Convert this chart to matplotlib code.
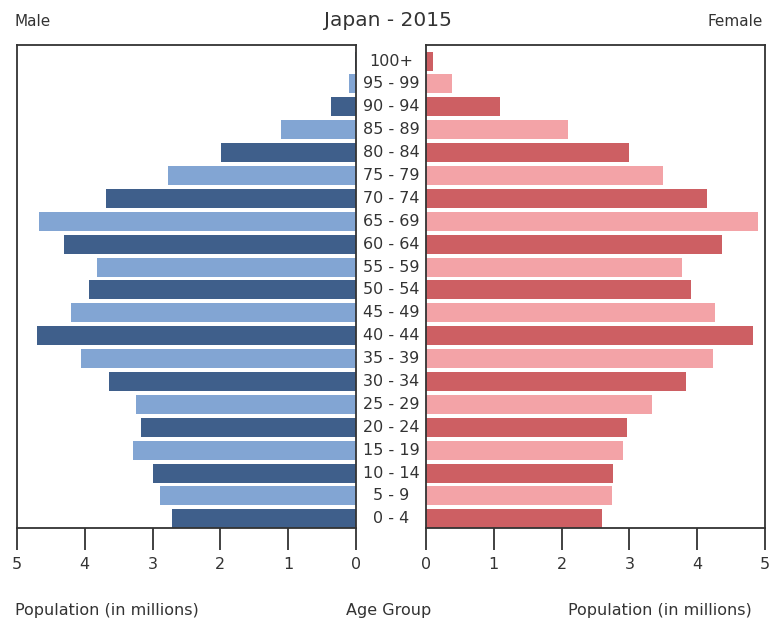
import matplotlib
matplotlib.use("Agg")
import matplotlib.pyplot as plt
import numpy as np

age_groups = ["0 - 4", "5 - 9", "10 - 14", "15 - 19", "20 - 24", "25 - 29", "30 - 34",
              "35 - 39", "40 - 44", "45 - 49", "50 - 54", "55 - 59", "60 - 64", "65 - 69",
              "70 - 74", "75 - 79", "80 - 84", "85 - 89", "90 - 94", "95 - 99", "100+"]
male = [2.72, 2.89, 3.00, 3.29, 3.17, 3.24, 3.65, 4.05, 4.70, 4.20, 3.94, 3.82, 4.31, 4.68,
        3.69, 2.78, 1.99, 1.10, 0.37, 0.10, 0.02]
female = [2.59, 2.75, 2.76, 2.90, 2.97, 3.33, 3.83, 4.24, 4.83, 4.26, 3.91, 3.78, 4.36, 4.90,
          4.15, 3.50, 3.00, 2.10, 1.09, 0.39, 0.11]
ticks = [0, 1, 2, 3, 4, 5]

male_colors = ["#3f5f8b", "#82a5d3"]
female_colors = ["#cd5f63", "#f3a3a7"]
text_color = "#333333"
spine_color = "#333333"

W, H = 771, 623
fig = plt.figure(figsize=(W / 100, H / 100), dpi=100)

bottom = 1 - 528 / H
height = (528 - 45) / H
axL = fig.add_axes([17 / W, bottom, 339 / W, height])
axR = fig.add_axes([426 / W, bottom, 339 / W, height])

y = np.arange(len(age_groups))
mc = [male_colors[i % 2] for i in range(len(y))]
fc = [female_colors[i % 2] for i in range(len(y))]
axL.barh(y, male, height=0.83, color=mc)
axR.barh(y, female, height=0.83, color=fc)

for ax in (axL, axR):
    ax.set_ylim(-0.4, 20.7)
    ax.set_xticks(ticks)
    ax.set_xticklabels([str(t) for t in ticks])
    ax.set_yticks([])
    for s in ax.spines.values():
        s.set_color(spine_color)
        s.set_linewidth(1.3)
    ax.tick_params(axis="x", direction="out", length=16, width=1.3, color=spine_color,
                   labelsize=11.5, labelcolor=text_color, pad=5)
axL.set_xlim(5, 0)
axR.set_xlim(0, 5)

for i, lab in enumerate(age_groups):
    yf = axL.transData.transform((0, i))[1]
    fig.text(391 / W, yf / H, lab, ha="center", va="center", fontsize=11.5, color=text_color,
             transform=fig.transFigure)

fig.text(388 / W, 1 - 20 / H, "Japan - 2015", ha="center", va="center", fontsize=14.5, color=text_color)
fig.text(15 / W, 1 - 22 / H, "Male", ha="left", va="center", fontsize=11, color=text_color)
fig.text(763 / W, 1 - 22 / H, "Female", ha="right", va="center", fontsize=11, color=text_color)
fig.text(15 / W, 1 - 611 / H, "Population (in millions)", ha="left", va="center", fontsize=11.5, color=text_color)
fig.text(752 / W, 1 - 611 / H, "Population (in millions)", ha="right", va="center", fontsize=11.5, color=text_color)
fig.text(389 / W, 1 - 611 / H, "Age Group", ha="center", va="center", fontsize=11.5, color=text_color)

fig.savefig("out.png", dpi=100)
